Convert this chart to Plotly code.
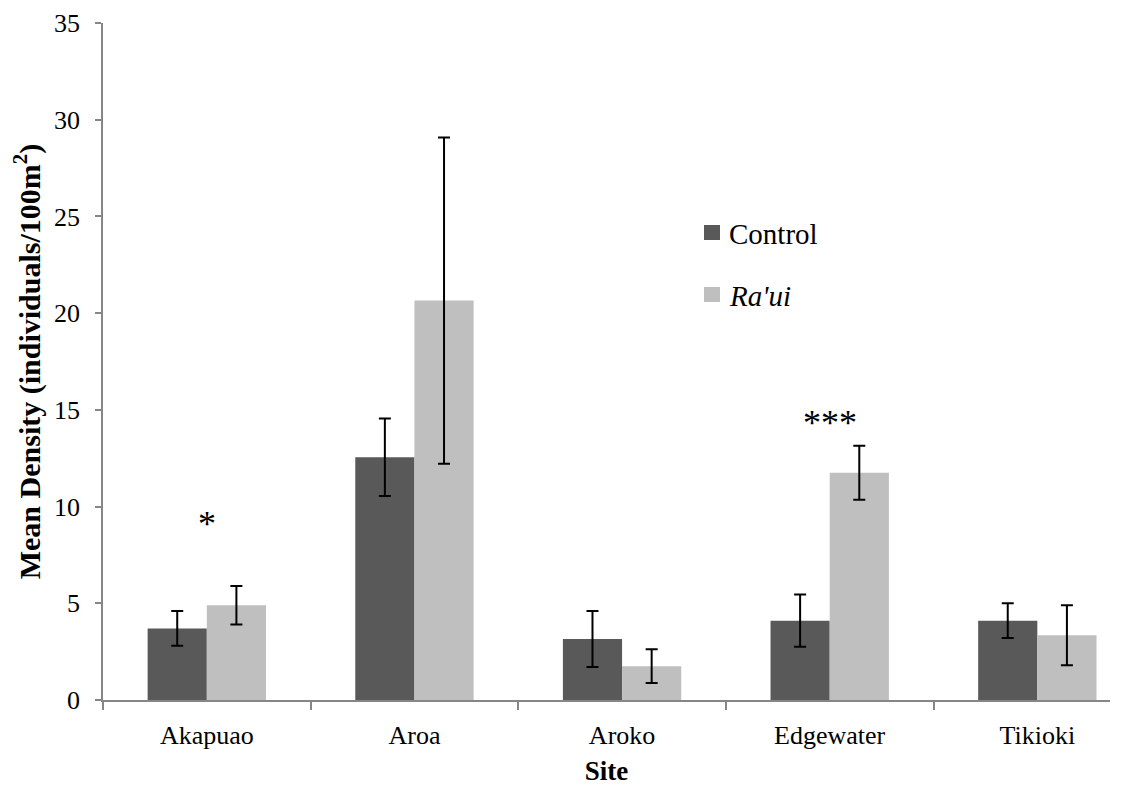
import plotly.graph_objects as go

sites = ["Akapuao", "Aroa", "Aroko", "Edgewater", "Tikioki"]
control = [3.7, 12.55, 3.15, 4.1, 4.1]
control_err = [0.9, 2.0, 1.45, 1.35, 0.9]
raui = [4.9, 20.65, 1.75, 11.75, 3.35]
raui_err = [1.0, 8.43, 0.87, 1.4, 1.55]
series_names = ["Control", "<i>Ra'ui</i>"]
series_colors = ["#595959", "#BFBFBF"]
sig_sites = ["Akapuao", "Edgewater"]
sig_labels = ["*", "***"]
sig_y = [9.1, 14.3]

FONT = "Liberation Serif"
AXIS_COLOR = "#868686"

W, H = 1131, 785
ML, MR, MT, MB = 95, 29, 15, 93
PW, PH = W - ML - MR, H - MT - MB

fig = go.Figure()
for name, vals, errs, col in zip(series_names, [control, raui], [control_err, raui_err], series_colors):
    fig.add_trace(go.Bar(
        x=sites, y=vals, name=name, showlegend=False,
        marker=dict(color=col, line=dict(width=0)),
        error_y=dict(type="data", array=errs, color="black", thickness=2, width=6),
    ))

for s, lab, yy in zip(sig_sites, sig_labels, sig_y):
    fig.add_annotation(x=s, y=yy, text=lab, showarrow=False, xref="x", yref="y",
                       font=dict(family=FONT, size=36, color="black"))

# legend drawn as swatches + labels (pixel positions within the figure)
def px_x(p):
    return (p - ML) / PW

def px_y(p):
    return 1 - (p - MT) / PH

leg_left, leg_top, sw, row_gap = 696, 217, 15, 62
for i, (name, col) in enumerate(zip(series_names, series_colors)):
    top = leg_top + i * row_gap
    fig.add_shape(type="rect", xref="paper", yref="paper",
                  x0=px_x(leg_left), x1=px_x(leg_left + sw + 1),
                  y0=px_y(top + sw), y1=px_y(top),
                  fillcolor=col, line=dict(width=0))
    fig.add_annotation(xref="paper", yref="paper", x=px_x(leg_left + 23), y=px_y(top + 9),
                       xanchor="left", yanchor="middle", showarrow=False, text=name,
                       font=dict(family=FONT, size=29, color="black"))

fig.update_layout(
    width=W, height=H,
    margin=dict(l=ML, r=MR, t=MT, b=MB),
    paper_bgcolor="white", plot_bgcolor="white",
    barmode="group", bargap=0.43, bargroupgap=0,
    font=dict(family=FONT, size=26, color="black"),
    showlegend=False,
    xaxis=dict(
        type="category", range=[-0.5, 4.35], automargin=False,
        showline=True, linecolor=AXIS_COLOR, linewidth=1.5,
        ticks="outside", tickson="boundaries", ticklen=8, tickcolor=AXIS_COLOR, tickwidth=1.5,
        ticklabelstandoff=11,
        showgrid=False, zeroline=False,
        tickfont=dict(family=FONT, size=26, color="black"),
        title=dict(text="<b>Site</b>", font=dict(family=FONT, size=27, color="black"), standoff=12),
    ),
    yaxis=dict(
        range=[0, 35], dtick=5, tick0=0, automargin=False,
        showline=True, linecolor=AXIS_COLOR, linewidth=1.5,
        ticks="outside", ticklen=6, tickcolor=AXIS_COLOR, tickwidth=1.5,
        ticklabelstandoff=10,
        showgrid=False, zeroline=False,
        tickfont=dict(family=FONT, size=26, color="black"),
        title=dict(text="<b>Mean Density (individuals/100m<sup>2</sup>)</b>",
                   font=dict(family=FONT, size=30, color="black"), standoff=19),
    ),
)

fig.write_html("out.html")
